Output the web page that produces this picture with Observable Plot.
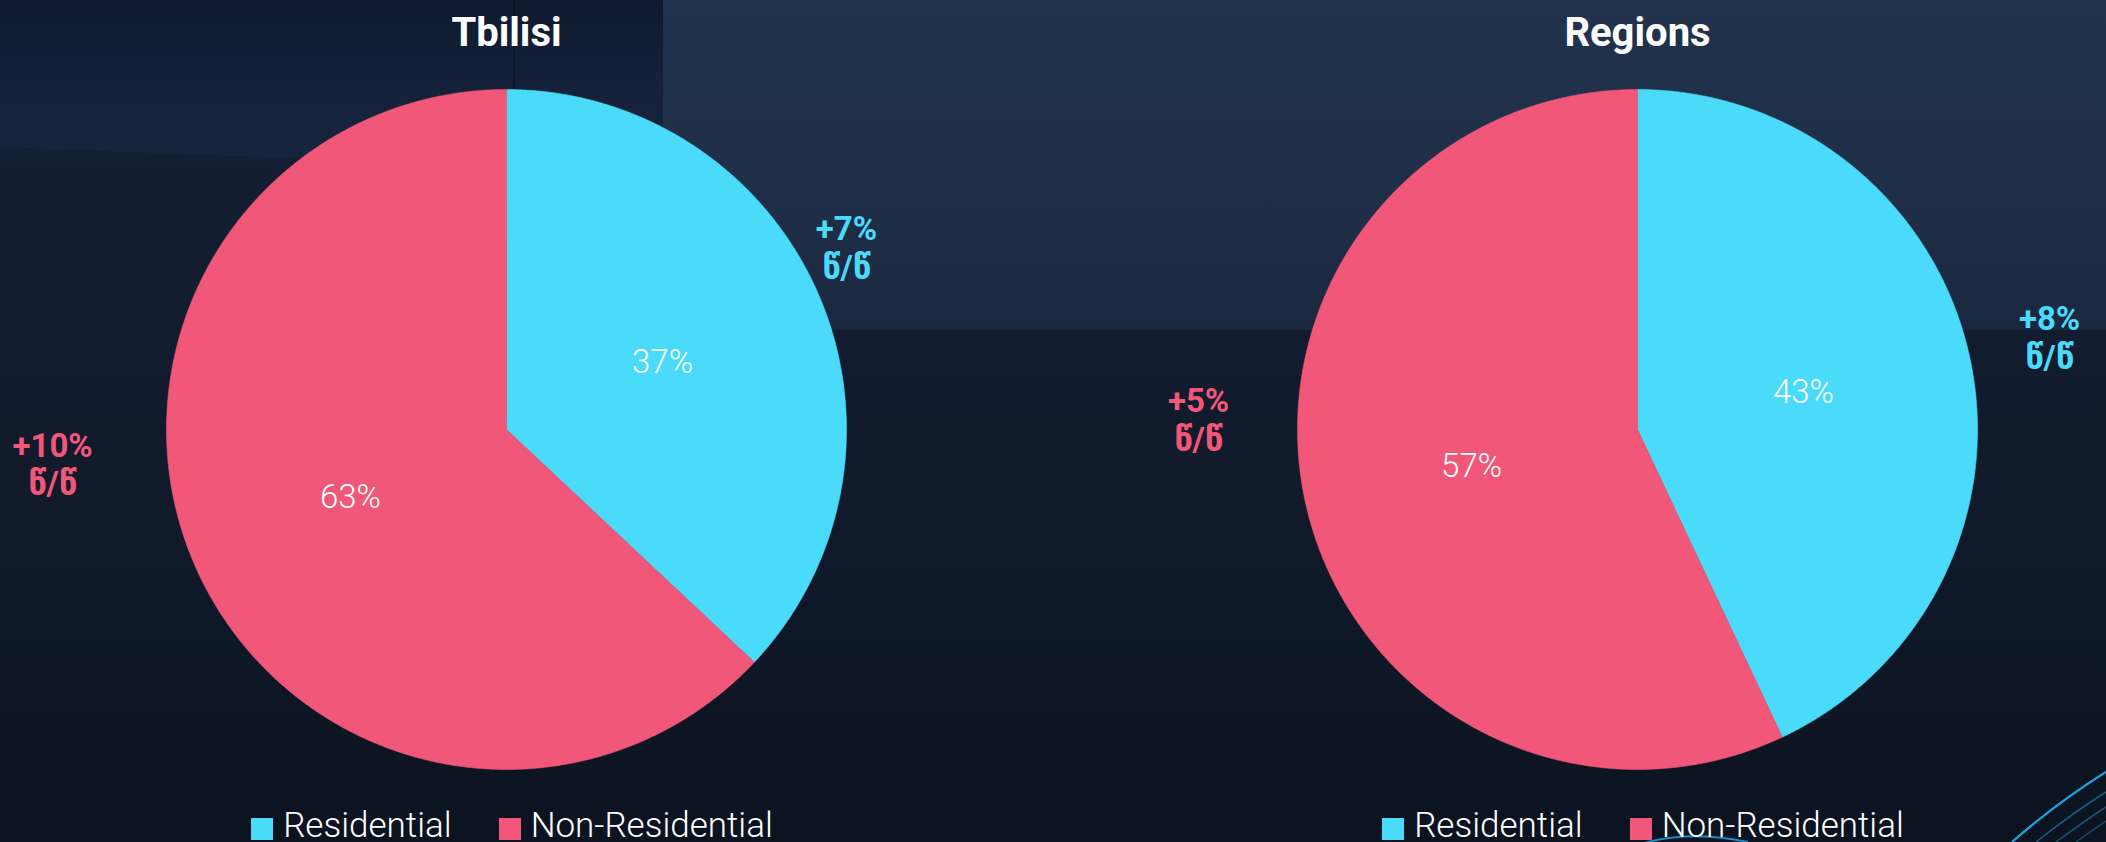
<!DOCTYPE html>
<html>
<head>
<meta charset="utf-8">
<script src="https://cdn.jsdelivr.net/npm/d3@7"></script>
<script src="https://cdn.jsdelivr.net/npm/@observablehq/plot@0.6"></script>
<style>
html, body { margin: 0; padding: 0; }
body {
  width: 2106px; height: 842px; overflow: hidden; position: relative;
  background: linear-gradient(180deg, #152239 0px, #131e31 200px, #101a2b 500px, #0c1320 842px);
  font-family: Roboto, "DejaVu Sans", sans-serif; color: #fff;
}
.bg-tr { position: absolute; left: 663px; top: 0; width: 1443px; height: 330px;
  background: linear-gradient(180deg, #21324c 0%, #1f2f48 60%, #1a283f 100%); }
.bg-tl { position: absolute; left: 0; top: 0; width: 663px; height: 175px;
  background: linear-gradient(180deg, #0f1a2f 0%, #142139 50%, #17253e 100%);
  clip-path: polygon(0 0, 663px 0, 663px 172px, 0 147px); }
.bg-line { position: absolute; left: 513px; top: 0; width: 2px; height: 90px; background: #0b1526; }
.deco { position: absolute; left: 0; top: 0; }
.panel { position: absolute; top: 0; width: 1053px; height: 842px; }
.panel svg.plotsvg { position: absolute; left: 0; top: 0; }
.legend { position: absolute; top: 808px; display: flex; justify-content: center; }
.lg-swatches { font-family: Roboto, sans-serif !important; font-size: 35px !important; font-weight: 300 !important;
  color: #fff !important; line-height: 35px !important; margin: 0 !important; min-height: 0 !important; }
.lg-swatches .lg-swatch { margin-right: 47px !important; }
.lg-swatches .lg-swatch:last-child { margin-right: 0 !important; }
.lg-swatches .lg-swatch > svg { margin-right: 10px !important; position: relative; top: 3px; }
</style>
</head>
<body>
<div class="bg-tl"></div>
<div class="bg-tr"></div>
<div class="bg-line"></div>
<svg class="deco" width="2106" height="842">
  <path d="M2012,842 Q2058,802 2106,772" fill="none" stroke="#1ea3e0" stroke-width="2.2"/>
  <path d="M2036,842 Q2074,812 2106,792" fill="none" stroke="#1b6f9c" stroke-width="1.5" opacity="0.8"/>
  <path d="M2056,842 Q2086,820 2106,807" fill="none" stroke="#1b6f9c" stroke-width="1.5" opacity="0.7"/>
  <path d="M2076,842 Q2094,829 2106,821" fill="none" stroke="#1b6f9c" stroke-width="1.5" opacity="0.6"/>
  <path d="M1644,843 Q1690,830 1748,842" fill="none" stroke="#1d8cc4" stroke-width="2"/>
</svg>
<div id="left" class="panel" style="left:0px"></div>
<div id="right" class="panel" style="left:1053px"></div>
<script>
// ---- data ----
const categories = ["Residential", "Non-Residential"];
const categoryColors = ["#4adafa", "#f05779"];
const panelTitles = ["Tbilisi", "Regions"];
const tbilisiShares = [37, 63];
const regionsShares = [43, 57];
const tbilisiChanges = ["+7%", "+10%"];
const regionsChanges = ["+8%", "+5%"];
const changeUnit = "წ/წ";

// ---- layout (not data) ----
const R = 340, W = 1053, H = 800, CY = 429;
const panelCenters = [506, 584];
const annotAnchors = [
  [[1.0, 0.538], [-1.335, -0.1]],
  [[1.212, 0.271], [-1.291, 0.031]]
];

function piePanel(el, title, shares, changes, cx, anchors) {
  const arcs = d3.pie().sort(null).value(d => d)(shares);
  const slices = [];
  arcs.forEach((a, i) => {
    const n = Math.max(2, Math.ceil((a.endAngle - a.startAngle) / (Math.PI / 720)));
    slices.push({category: categories[i], px: 0, py: 0});
    for (let k = 0; k <= n; k++) {
      const t = a.startAngle + (a.endAngle - a.startAngle) * k / n;
      slices.push({category: categories[i], px: Math.sin(t), py: Math.cos(t)});
    }
    slices.push({category: categories[i], px: 0, py: 0});
  });
  const inner = arcs.map((a, i) => {
    const m = (a.startAngle + a.endAngle) / 2;
    return {px: 0.5 * Math.sin(m), py: 0.5 * Math.cos(m), text: `${shares[i]}%`};
  });
  const notes = changes.map((c, i) => ({
    category: categories[i], px: anchors[i][0], py: anchors[i][1], text: `${c}\n${changeUnit}`
  }));

  const chart = Plot.plot({
    width: W, height: H,
    margin: 0,
    className: "plotsvg",
    style: {background: "transparent", color: "white", fontFamily: "Roboto, 'DejaVu Sans', sans-serif", overflow: "visible"},
    x: {domain: [-cx / R, (W - cx) / R], range: [0, W], axis: null},
    y: {domain: [(CY - H) / R, CY / R], range: [H, 0], axis: null},
    color: {domain: categories, range: categoryColors},
    marks: [
      Plot.line(slices, {x: "px", y: "py", z: "category", fill: "category", stroke: "category", strokeWidth: 0.6}),
      Plot.text(inner, {x: "px", y: "py", text: "text", fill: "white", fontSize: 33, fontWeight: 300}),
      Plot.text(notes, {x: "px", y: "py", text: "text", fill: "category", fontSize: 33, fontWeight: 700, lineHeight: 1.18}),
      Plot.text([title], {x: () => 0, frameAnchor: "top", dy: 17, text: d => d, fill: "white", fontSize: 40, fontWeight: 700})
    ]
  });
  chart.classList.add("plotsvg");
  el.appendChild(chart);

  const lg = Plot.legend({
    color: {type: "categorical", domain: categories, range: categoryColors},
    swatchSize: 22,
    className: "lg"
  });
  const wrap = document.createElement("div");
  wrap.className = "legend";
  wrap.style.left = (cx + 6 - 400) + "px";
  wrap.style.width = "800px";
  wrap.appendChild(lg);
  el.appendChild(wrap);
}

piePanel(document.getElementById("left"), panelTitles[0], tbilisiShares, tbilisiChanges, panelCenters[0], annotAnchors[0]);
piePanel(document.getElementById("right"), panelTitles[1], regionsShares, regionsChanges, panelCenters[1], annotAnchors[1]);
</script>
</body>
</html>
